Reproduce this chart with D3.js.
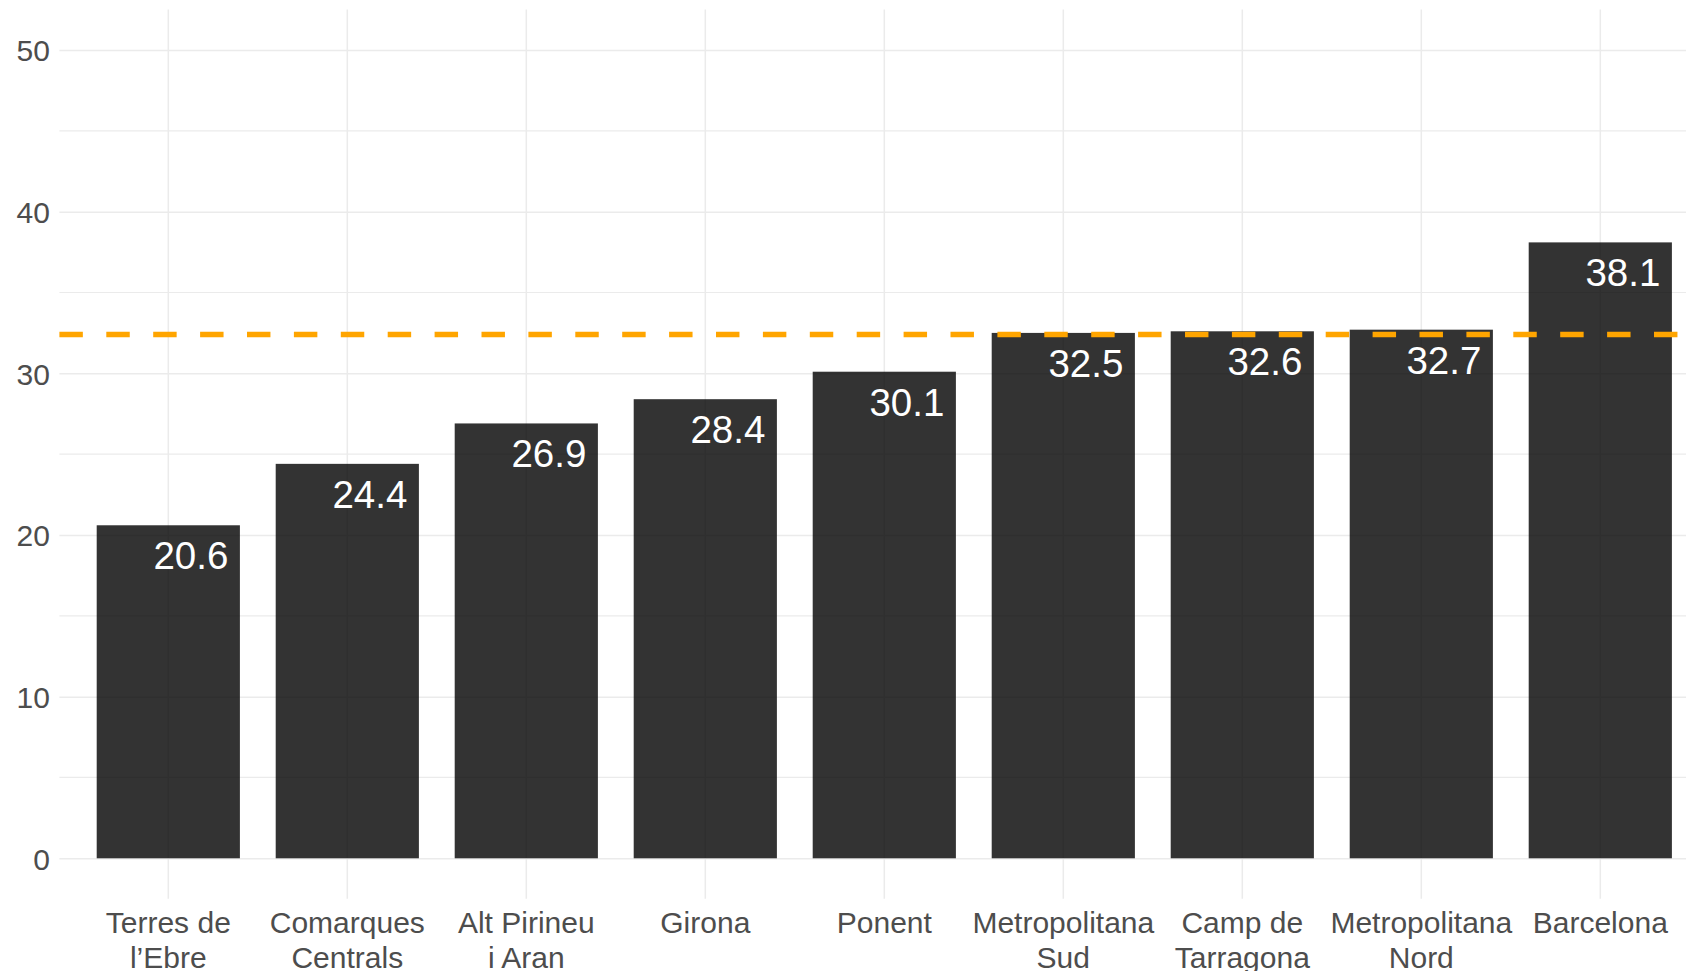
<!DOCTYPE html>
<html>
<head>
<meta charset="utf-8">
<script src="https://cdn.jsdelivr.net/npm/d3@7"></script>
<style>
  html, body { margin: 0; padding: 0; background: #ffffff; }
  svg { display: block; }
</style>
</head>
<body>
<svg id="chart" width="1686" height="971"></svg>
<script>
// ---- data ----
const categories = [
  ["Terres de", "l\u2019Ebre"],
  ["Comarques", "Centrals"],
  ["Alt Pirineu", "i Aran"],
  ["Girona"],
  ["Ponent"],
  ["Metropolitana", "Sud"],
  ["Camp de", "Tarragona"],
  ["Metropolitana", "Nord"],
  ["Barcelona"]
];
const values = [20.6, 24.4, 26.9, 28.4, 30.1, 32.5, 32.6, 32.7, 38.1];
const valueLabels = ["20.6", "24.4", "26.9", "28.4", "30.1", "32.5", "32.6", "32.7", "38.1"];
const referenceValue = [32.4];
const yTicks = [0, 10, 20, 30, 40, 50];
const yMinorTicks = [5, 15, 25, 35, 45];

// ---- layout ----
const W = 1686, H = 971;
const plotLeft = 60.9, plotTop = 9.6, plotBottom = 898.7;
const step = 179;
const plotRight = plotLeft + step * 9.2;

const svg = d3.select("#chart");
const keys = categories.map((c, i) => i);

const x = d3.scaleBand()
  .domain(keys)
  .range([plotLeft, plotRight])
  .paddingInner(0.2)
  .paddingOuter(0.2);

const y = d3.scaleLinear()
  .domain([-2.5, 52.5])
  .range([plotBottom, plotTop]);

const gridColor = "#ebebeb";
const font = "'Liberation Sans', Arial, sans-serif";

// minor horizontal gridlines
svg.append("g")
  .selectAll("line")
  .data(yMinorTicks)
  .join("line")
  .attr("x1", plotLeft - 1.5).attr("x2", W)
  .attr("y1", d => y(d)).attr("y2", d => y(d))
  .attr("stroke", gridColor).attr("stroke-width", 1.2);

// major gridlines via axes
const yGrid = svg.append("g")
  .attr("transform", `translate(${plotLeft - 1.5},0)`)
  .call(d3.axisRight(y).tickValues(yTicks).tickSize(W).tickFormat(""));
yGrid.select(".domain").remove();
yGrid.selectAll(".tick line").attr("stroke", gridColor).attr("stroke-width", 1.5);

const xGrid = svg.append("g")
  .attr("transform", `translate(0,${plotTop})`)
  .call(d3.axisBottom(x).tickSize(plotBottom - plotTop).tickFormat(""));
xGrid.select(".domain").remove();
xGrid.selectAll(".tick line").attr("stroke", gridColor).attr("stroke-width", 1.5);

// bars
svg.append("g")
  .selectAll("rect")
  .data(values)
  .join("rect")
  .attr("x", (d, i) => x(i))
  .attr("width", x.bandwidth())
  .attr("y", d => y(d))
  .attr("height", d => y(0) - y(d))
  .attr("fill", "#000000")
  .attr("fill-opacity", 0.8);

// value labels
svg.append("g")
  .selectAll("text")
  .data(values)
  .join("text")
  .attr("x", (d, i) => x(i) + x.bandwidth() - 11.5)
  .attr("y", d => y(d) + 44)
  .attr("text-anchor", "end")
  .attr("fill", "#ffffff")
  .style("font-family", font)
  .style("font-size", "38.5px")
  .text((d, i) => valueLabels[i]);

// reference dashed line
svg.append("g")
  .selectAll("line")
  .data(referenceValue)
  .join("line")
  .attr("x1", plotLeft - 1.5).attr("x2", W)
  .attr("y1", d => y(d)).attr("y2", d => y(d))
  .attr("stroke", "#FFA500")
  .attr("stroke-width", 5.5)
  .attr("stroke-dasharray", "23.45,23.45");

// y axis labels
const yAxis = svg.append("g")
  .attr("transform", `translate(${plotLeft - 11},0)`)
  .call(d3.axisLeft(y).tickValues(yTicks).tickSize(0).tickPadding(0));
yAxis.select(".domain").remove();
yAxis.selectAll("text")
  .attr("fill", "#4d4d4d")
  .style("font-family", font)
  .style("font-size", "30px")
  .attr("dy", "0.36em");

// x axis labels (multi-line)
const xAxis = svg.append("g")
  .attr("transform", `translate(0,${plotBottom})`)
  .call(d3.axisBottom(x).tickSize(0).tickFormat(""));
xAxis.select(".domain").remove();
xAxis.selectAll(".tick").each(function(i) {
  const t = d3.select(this).append("text")
    .attr("fill", "#4d4d4d")
    .attr("text-anchor", "middle")
    .style("font-family", font)
    .style("font-size", "30px");
  categories[i].forEach((line, k) => {
    t.append("tspan")
      .attr("x", 0)
      .attr("y", 34 + k * 35.5)
      .text(line);
  });
});
</script>
</body>
</html>
